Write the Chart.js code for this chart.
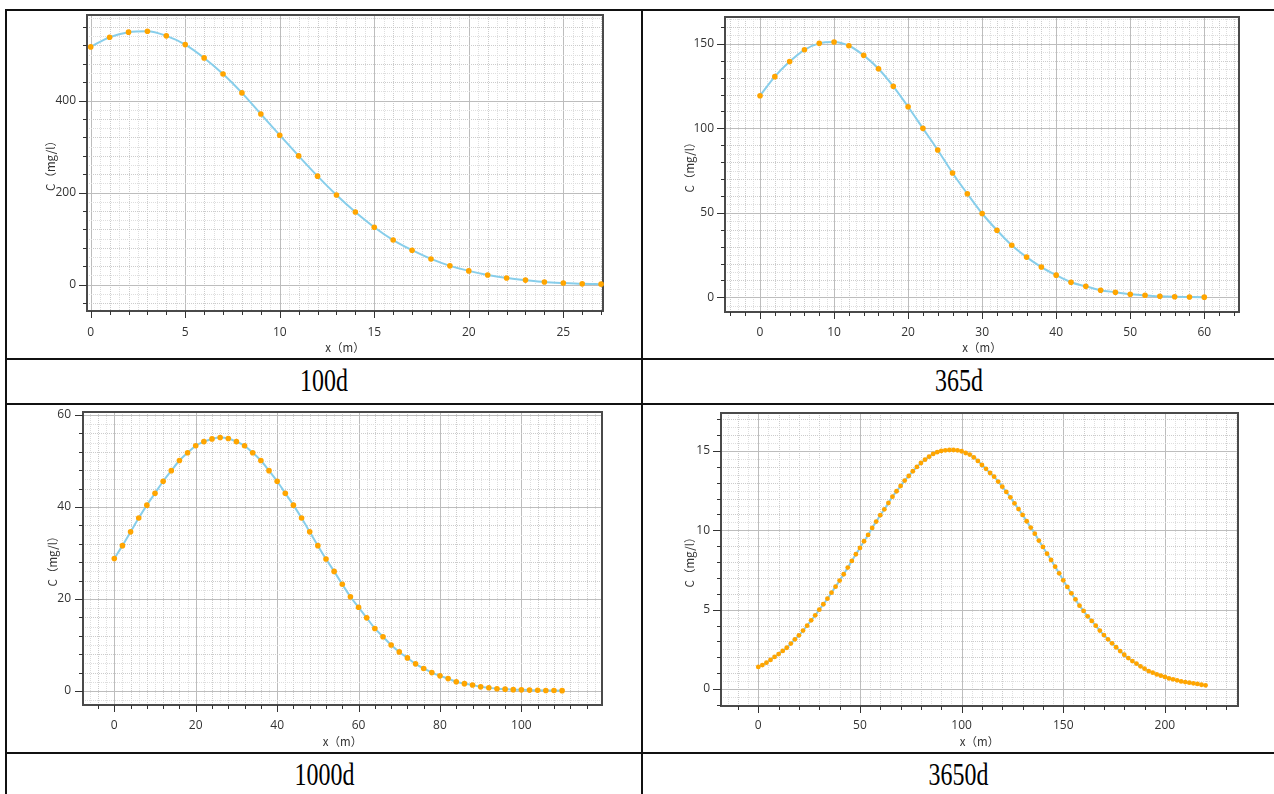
<!DOCTYPE html>
<html><head><meta charset="utf-8">
<script src="https://cdn.jsdelivr.net/npm/chart.js@4.4.0/dist/chart.umd.min.js"></script>
<style>
html,body{margin:0;padding:0;background:#fff;}
body{width:1274px;height:794px;overflow:hidden;position:relative;}
.hl{position:absolute;background:#111;height:2px;left:5px;right:0;}
.vl{position:absolute;background:#111;width:2px;}
.cap{position:absolute;font-family:'Liberation Serif','Times New Roman',serif;font-size:26px;color:#000;text-align:center;line-height:30px;height:30px;}
.cap span{display:inline-block;transform:scale(0.92,1.18);}
canvas{position:absolute;}
</style></head><body>
<div class="hl" style="top:9px"></div>
<div class="hl" style="top:358px"></div>
<div class="hl" style="top:403px"></div>
<div class="hl" style="top:752px"></div>
<div class="vl" style="left:5px;top:9px;height:785px"></div>
<div class="vl" style="left:641px;top:9px;height:785px"></div>
<div class="cap" style="left:7px;width:634px;top:367px"><span id="cap1"></span></div>
<div class="cap" style="left:643px;width:631px;top:367px"><span id="cap2"></span></div>
<div class="cap" style="left:7px;width:634px;top:761px"><span id="cap3"></span></div>
<div class="cap" style="left:643px;width:631px;top:761px"><span id="cap4"></span></div>
<canvas id="c1" width="633" height="347" style="left:7px;top:11px"></canvas>
<canvas id="c2" width="631" height="347" style="left:643px;top:11px"></canvas>
<canvas id="c3" width="633" height="347" style="left:7px;top:405px"></canvas>
<canvas id="c4" width="631" height="347" style="left:643px;top:405px"></canvas>
<script>
// ---------------- DATA ----------------
const captions = ['100d', '365d', '1000d', '3650d'];
const xTitle = 'x（m）';
const yTitle = 'C（mg/l）';

const x100 = [0,1,2,3,4,5,6,7,8,9,10,11,12,13,14,15,16,17,18,19,20,21,22,23,24,25,26,27];
const c100 = [517,538,549,551,541,522,493,458,417,371,325,280,236,195,158,125,97,75,56,41,30,21,14.5,10,6,3.6,1.8,1.2];
const xTicks100 = [0,5,10,15,20,25];
const yTicks100 = [0,200,400];

const x365 = [0,2,4,6,8,10,12,14,16,18,20,22,24,26,28,30,32,34,36,38,40,42,44,46,48,50,52,54,56,58,60];
const c365 = [119.3,130.6,139.5,146.5,150.3,151.1,148.9,143.2,135.3,124.9,112.8,100,87.2,73.6,61.3,49.6,39.7,30.8,23.8,17.9,13.1,8.9,6.5,4.2,3.0,1.8,1.2,0.6,0.3,0.2,0.1];
const xTicks365 = [0,10,20,30,40,50,60];
const yTicks365 = [0,50,100,150];

const x1000 = [0,2,4,6,8,10,12,14,16,18,20,22,24,26,28,30,32,34,36,38,40,42,44,46,48,50,52,54,56,58,60,62,64,66,68,70,72,74,76,78,80,82,84,86,88,90,92,94,96,98,100,102,104,106,108,110];
const c1000 = [28.8,31.6,34.6,37.6,40.4,43,45.6,47.9,50.1,51.8,53.3,54.2,54.8,55.1,54.9,54.2,53.3,51.8,50.1,47.9,45.6,43,40.4,37.6,34.6,31.6,28.7,26,23.2,20.5,18.2,15.9,13.6,11.8,10,8.5,7.2,5.9,4.9,4,3.3,2.7,2,1.6,1.3,0.9,0.7,0.5,0.4,0.3,0.25,0.2,0.15,0.12,0.1,0.08];
const xTicks1000 = [0,20,40,60,80,100];
const yTicks1000 = [0,20,40,60];

const x3650 = [0,2,4,6,8,10,12,14,16,18,20,22,24,26,28,30,32,34,36,38,40,42,44,46,48,50,52,54,56,58,60,62,64,66,68,70,72,74,76,78,80,82,84,86,88,90,92,94,96,98,100,102,104,106,108,110,112,114,116,118,120,122,124,126,128,130,132,134,136,138,140,142,144,146,148,150,152,154,156,158,160,162,164,166,168,170,172,174,176,178,180,182,184,186,188,190,192,194,196,198,200,202,204,206,208,210,212,214,216,218,220];
const c3650 = [1.39,1.51,1.66,1.83,2.02,2.2,2.4,2.6,2.86,3.13,
  3.38,3.68,3.99,4.33,4.64,5.0,5.34,5.69,6.07,6.45,
  6.83,7.23,7.65,8.07,8.49,8.89,9.31,9.71,10.15,10.55,
  10.95,11.32,11.72,12.12,12.46,12.79,13.13,13.42,13.72,13.99,
  14.24,14.45,14.64,14.81,14.92,15.0,15.04,15.06,15.06,15.04,
  14.98,14.87,14.77,14.6,14.37,14.12,13.87,13.61,13.38,13.07,
  12.75,12.42,12.08,11.7,11.34,10.97,10.57,10.17,9.79,9.35,
  8.95,8.53,8.13,7.71,7.29,6.85,6.43,6.03,5.65,5.25,
  4.92,4.58,4.29,3.99,3.68,3.4,3.13,2.88,2.63,2.39,
  2.16,1.95,1.76,1.6,1.43,1.28,1.13,1.03,0.92,0.84,
  0.76,0.67,0.61,0.55,0.48,0.44,0.4,0.36,0.32,0.27,
  0.23];
const xTicks3650 = [0,50,100,150,200];
const yTicks3650 = [0,5,10,15];

// ---------------- DRAWING ----------------
const TICK_FONT = "'Open Sans','Noto Sans',sans-serif";
const TITLE_FONT = "'Noto Sans CJK SC','Noto Sans',sans-serif";
const LINE_COLOR = '#87CEEB';
const POINT_COLOR = '#FFA500';

function stepValues(min, max, step) {
  const out = [];
  const k0 = Math.ceil(min / step - 1e-9), k1 = Math.floor(max / step + 1e-9);
  for (let k = k0; k <= k1; k++) out.push(+(k * step).toFixed(6));
  return out;
}
function isMult(v, step) { const r = v / step; return Math.abs(r - Math.round(r)) < 1e-6; }

const GSTY = [
  {color: '#dedede', dash: [1, 1]},
  {color: '#cccccc', dash: [1, 1]},
  {color: '#bdbdbd', dash: []}
];

const gridFrame = {
  id: 'gridFrame',
  beforeDatasetsDraw(chart) {
    const o = chart.options.plugins.gridFrame;
    const {ctx, chartArea: a} = chart;
    const xs = chart.scales.x, ys = chart.scales.y;
    ctx.save();
    ctx.beginPath(); ctx.rect(a.left, a.top, a.right - a.left, a.bottom - a.top); ctx.clip();
    const drawAxis = (scale, g, vertical) => {
      const vals = stepValues(scale.min, scale.max, g.sub);
      for (let level = 0; level < 3; level++) {
        vals.forEach(v => {
          const lv = isMult(v, g.major) ? 2 : (isMult(v, g.minor) ? 1 : 0);
          if (lv !== level) return;
          const p = Math.round(scale.getPixelForValue(v)) + 0.5;
          ctx.beginPath();
          ctx.strokeStyle = GSTY[lv].color; ctx.setLineDash(GSTY[lv].dash); ctx.lineWidth = 1;
          if (vertical) { ctx.moveTo(p, a.top); ctx.lineTo(p, a.bottom); }
          else { ctx.moveTo(a.left, p); ctx.lineTo(a.right, p); }
          ctx.stroke();
        });
      }
    };
    drawAxis(xs, o.x, true);
    drawAxis(ys, o.y, false);
    ctx.restore();
    ctx.save();
    ctx.setLineDash([]);
    ctx.strokeStyle = '#4a4a4a'; ctx.lineWidth = 2;
    ctx.strokeRect(a.left, a.top, a.right - a.left, a.bottom - a.top);
    ctx.lineWidth = 1; ctx.strokeStyle = '#333';
    stepValues(xs.min, xs.max, o.x.minor).forEach(v => {
      const len = isMult(v, o.x.major) ? 7 : 4;
      const p = Math.round(xs.getPixelForValue(v)) + 0.5;
      ctx.beginPath(); ctx.moveTo(p, a.bottom); ctx.lineTo(p, a.bottom + len); ctx.stroke();
    });
    stepValues(ys.min, ys.max, o.y.minor).forEach(v => {
      const len = isMult(v, o.y.major) ? 8 : 4;
      const p = Math.round(ys.getPixelForValue(v)) + 0.5;
      ctx.beginPath(); ctx.moveTo(a.left, p); ctx.lineTo(a.left - len, p); ctx.stroke();
    });
    ctx.restore();
  }
};

function makeChart(id, xv, yv, xTicks, yTicks, L) {
  const pts = xv.map((x, i) => ({x: x, y: yv[i]}));
  return new Chart(document.getElementById(id), {
    type: 'line',
    data: {datasets: [{
      data: pts,
      borderColor: LINE_COLOR, borderWidth: 2,
      pointRadius: L.r, pointHoverRadius: L.r,
      pointBackgroundColor: POINT_COLOR, pointBorderColor: POINT_COLOR, pointBorderWidth: 0,
      cubicInterpolationMode: 'monotone', fill: false, clip: 8
    }]},
    options: {
      responsive: false, animation: false, devicePixelRatio: 1,
      layout: {padding: {left: 0, top: L.pt, right: L.pr, bottom: 0}},
      plugins: {legend: {display: false}, tooltip: {enabled: false},
        gridFrame: {x: L.gx, y: L.gy}},
      scales: {
        x: {
          type: 'linear', min: L.xmin, max: L.xmax,
          grid: {display: false, drawTicks: false}, border: {display: false},
          afterBuildTicks: s => { s.ticks = xTicks.map(v => ({value: v})); },
          afterFit: s => { s.height = L.xh; s.paddingLeft = 0; s.paddingRight = 0; },
          ticks: {padding: L.xtp, color: '#333', maxRotation: 0, autoSkip: false,
            font: {family: TICK_FONT, size: 12}, callback: v => String(v)},
          title: {display: true, text: xTitle, color: '#333',
            font: {family: TITLE_FONT, size: 11.5}, padding: {top: 0, bottom: L.xttp}}
        },
        y: {
          type: 'linear', min: L.ymin, max: L.ymax,
          grid: {display: false, drawTicks: false}, border: {display: false},
          afterBuildTicks: s => { s.ticks = yTicks.map(v => ({value: v})); },
          afterFit: s => { s.width = L.yw; s.paddingTop = 0; s.paddingBottom = 0; },
          ticks: {padding: L.ytp, color: '#333', autoSkip: false,
            font: {family: TICK_FONT, size: 12}, callback: v => String(v)},
          title: {display: true, text: yTitle, color: '#333',
            font: {family: TITLE_FONT, size: 11.5}, padding: {top: L.yttp, bottom: 0}}
        }
      }
    },
    plugins: [gridFrame]
  });
}

makeChart('c1', x100, c100, xTicks100, yTicks100, {
  r: 2.8, xmin: -0.196, xmax: 27.1, ymin: -57.2, ymax: 586.3,
  pt: 4, pr: 37, yw: 80, xh: 47, xtp: 14, xttp: 3.2, ytp: 11, yttp: 36.5,
  gx: {major: 5, minor: 1, sub: 0.5}, gy: {major: 200, minor: 40, sub: 20}
});
makeChart('c2', x365, c365, xTicks365, yTicks365, {
  r: 2.8, xmin: -4.73, xmax: 64.69, ymin: -8.7, ymax: 165.9,
  pt: 6, pr: 35, yw: 82, xh: 46, xtp: 13, xttp: 3.2, ytp: 11, yttp: 39.5,
  gx: {major: 10, minor: 2, sub: 1}, gy: {major: 50, minor: 10, sub: 5}
});
makeChart('c3', x1000, c1000, xTicks1000, yTicks1000, {
  r: 2.8, xmin: -7.69, xmax: 119.8, ymin: -3.04, ymax: 60.65,
  pt: 7, pr: 38, yw: 76, xh: 47, xtp: 13.5, xttp: 3.5, ytp: 12, yttp: 38.5,
  gx: {major: 20, minor: 4, sub: 2}, gy: {major: 20, minor: 4, sub: 2}
});
makeChart('c4', x3650, c3650, xTicks3650, yTicks3650, {
  r: 2.4, xmin: -18.35, xmax: 235.96, ymin: -1.07, ymax: 17.39,
  pt: 8, pr: 36, yw: 78, xh: 46, xtp: 12.5, xttp: 3.5, ytp: 11, yttp: 39.5,
  gx: {major: 50, minor: 10, sub: 5}, gy: {major: 5, minor: 1, sub: 0.5}
});

['cap1','cap2','cap3','cap4'].forEach((id, i) => { document.getElementById(id).textContent = captions[i]; });
</script>
</body></html>
